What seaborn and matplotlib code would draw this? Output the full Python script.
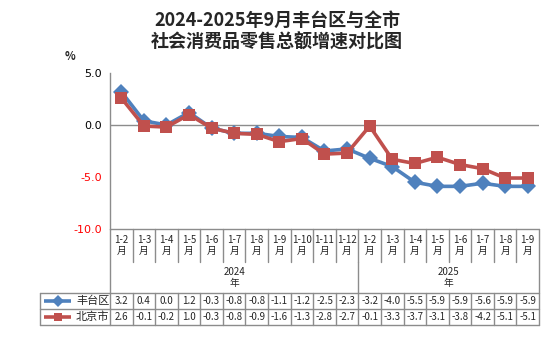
import matplotlib
matplotlib.use("Agg")
import matplotlib.pyplot as plt
import seaborn as sns
import pandas as pd
from matplotlib.lines import Line2D

sns.set_style("white")
plt.rcParams['font.family'] = ['Noto Sans CJK SC', 'DejaVu Sans']

categories = ["1-2", "1-3", "1-4", "1-5", "1-6", "1-7", "1-8", "1-9", "1-10", "1-11", "1-12",
              "1-2", "1-3", "1-4", "1-5", "1-6", "1-7", "1-8", "1-9"]
years = ["2024", "2025"]
year_counts = [11, 8]
fengtai = [3.2, 0.4, 0.0, 1.2, -0.3, -0.8, -0.8, -1.1, -1.2, -2.5, -2.3,
           -3.2, -4.0, -5.5, -5.9, -5.9, -5.6, -5.9, -5.9]
beijing = [2.6, -0.1, -0.2, 1.0, -0.3, -0.8, -0.9, -1.6, -1.3, -2.8, -2.7,
           -0.1, -3.3, -3.7, -3.1, -3.8, -4.2, -5.1, -5.1]
series_names = ["丰台区", "北京市"]
yticks = [5.0, 0.0, -5.0, -10.0]

BLUE = "#4F81BD"
RED = "#C0504D"
GRID = "#8C8C8C"

W, H = 554, 341
fig = plt.figure(figsize=(W / 100, H / 100), dpi=100)

def fx(px):
    return px / W

def fy(py):
    return 1 - py / H

L, R, T, B = 110, 539, 73, 229
ax = fig.add_axes([fx(L), fy(B), fx(R) - fx(L), fy(T) - fy(B)])

n = len(categories)
df = pd.DataFrame({
    "x": list(range(n)) * 2,
    "value": fengtai + beijing,
    "series": [series_names[0]] * n + [series_names[1]] * n,
})
sns.lineplot(data=df, x="x", y="value", hue="series", style="series",
             palette=[BLUE, RED], markers=["D", "s"], dashes=False,
             linewidth=2.6, markersize=8, markeredgewidth=0, ax=ax, legend=False)

ax.set_xlim(-0.5, n - 0.5)
ax.set_ylim(-10, 5)
ax.axhline(0, color=GRID, lw=1, zorder=0)
for s in ["top", "right", "bottom"]:
    ax.spines[s].set_visible(False)
ax.spines["left"].set_color(GRID)
ax.spines["left"].set_linewidth(1)
ax.set_xticks([])
ax.set_yticks(yticks)
ax.set_yticklabels([f"{v:.1f}" for v in yticks], fontsize=8, family=['DejaVu Sans'])
for lbl, v in zip(ax.get_yticklabels(), yticks):
    lbl.set_color("red" if v < 0 else "black")
ax.tick_params(axis="y", length=0, pad=6)
ax.set_xlabel("")
ax.set_ylabel("")

fig.text(fx(70), fy(57), "%", fontsize=8, ha="center", va="center", weight="bold")

fig.text(fx(277), fy(20), "2024-2025年9月丰台区与全市", fontsize=13, weight="bold",
         ha="center", va="center")
fig.text(fx(277), fy(42), "社会消费品零售总额增速对比图", fontsize=13, weight="bold",
         ha="center", va="center")

# table
cw = (R - L) / n
def hline(y, x0, x1):
    fig.add_artist(Line2D([fx(x0), fx(x1)], [fy(y), fy(y)], color=GRID, lw=1))
def vline(x, y0, y1):
    fig.add_artist(Line2D([fx(x), fx(x)], [fy(y0), fy(y1)], color=GRID, lw=1))

CAT_B, YEAR_B, R1_B, R2_B, LEG_L = 262, 293, 309, 325, 40
hline(B, L, R)
hline(YEAR_B, LEG_L, R)
hline(R1_B, LEG_L, R)
hline(R2_B, LEG_L, R)
vline(L, B, R2_B)
vline(R, B, R2_B)
vline(LEG_L, YEAR_B, R2_B)
for i in range(1, n):
    vline(L + i * cw, B, CAT_B)
    vline(L + i * cw, YEAR_B, R2_B)
vline(L + year_counts[0] * cw, CAT_B, YEAR_B)

for i, c in enumerate(categories):
    fig.text(fx(L + (i + 0.5) * cw), fy((B + CAT_B) / 2), f"{c}\n月", fontsize=7,
             ha="center", va="center", linespacing=1.1)
start = 0
for yname, cnt in zip(years, year_counts):
    cx = L + (start + cnt / 2) * cw
    fig.text(fx(cx), fy((CAT_B + YEAR_B) / 2), f"{yname}\n年", fontsize=7,
             ha="center", va="center", linespacing=1.1)
    start += cnt

for row, (vals, col, mk, name) in enumerate(zip([fengtai, beijing], [BLUE, RED], ["D", "s"], series_names)):
    yc = (YEAR_B + R1_B) / 2 if row == 0 else (R1_B + R2_B) / 2
    for i, v in enumerate(vals):
        fig.text(fx(L + (i + 0.5) * cw), fy(yc), f"{v:.1f}", fontsize=7,
                 ha="center", va="center")
    fig.add_artist(Line2D([fx(44), fx(71)], [fy(yc), fy(yc)], color=col, lw=2.6,
                          solid_capstyle="butt"))
    fig.add_artist(Line2D([fx(57.5)], [fy(yc)], color=col, marker=mk, markersize=6,
                          markeredgewidth=0, lw=0))
    fig.text(fx(76), fy(yc), name, fontsize=8, ha="left", va="center")

fig.savefig("out.png", dpi=100)
